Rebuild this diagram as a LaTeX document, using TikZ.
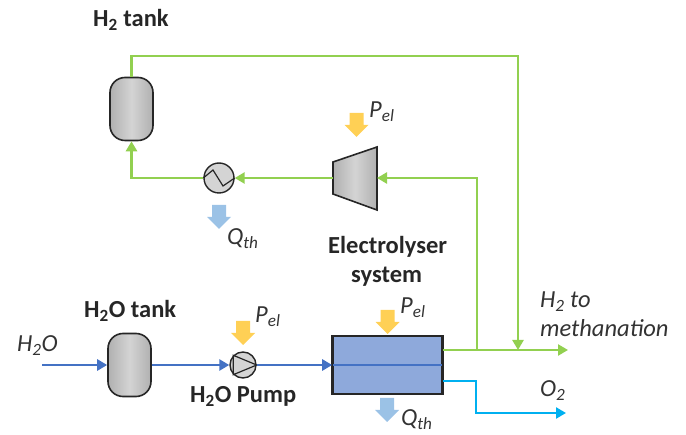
\documentclass[tikz,border=0pt]{standalone}
\usepackage{fontspec}
\setmainfont{Carlito}
\usetikzlibrary{arrows.meta,shadings}
\definecolor{pgreen}{RGB}{146,208,80}
\definecolor{pblue}{RGB}{68,114,196}
\definecolor{pcyan}{RGB}{0,176,240}
\definecolor{pyellow}{RGB}{255,208,85}
\definecolor{pheat}{RGB}{155,194,230}
\definecolor{pbox}{RGB}{142,169,219}
\definecolor{pedge}{RGB}{38,38,38}
\definecolor{gdark}{RGB}{140,140,140}
\definecolor{glight}{RGB}{212,212,212}
\pgfdeclarehorizontalshading{vessel}{100bp}{color(0bp)=(gdark);color(50bp)=(glight);color(100bp)=(gdark)}
\tikzset{
  x=1pt,y=-1pt,
  flow/.style={line width=2.8pt,-{Triangle[length=10pt,width=11pt]}},
  green flow/.style={flow,draw=pgreen},
  blue flow/.style={flow,draw=pblue},
  cyan flow/.style={flow,draw=pcyan},
  tank/.style={draw=pedge,line width=1.6pt,shading=vessel,rounded corners=15pt,minimum width=43pt,minimum height=63pt,inner sep=0pt},
  round unit/.style={circle,draw=pedge,line width=1.4pt,fill=glight,inner sep=0pt},
  label text/.style={font=\fontsize{24.5}{27}\selectfont\itshape,inner sep=0pt,text=black!80,anchor=base west},
  bold text/.style={font=\fontsize{24.5}{29}\selectfont\bfseries,inner sep=0pt,text=black!85,anchor=base west}
}
\newcommand{\blockdown}[4]{% colour, name, x, top y
  \fill[#1] (#3-7,#4) -- (#3+7,#4) -- (#3+7,#4+12) -- (#3+12,#4+12) -- (#3,#4+24) -- (#3-12,#4+12) -- (#3-7,#4+12) -- cycle;
  \coordinate (#2) at (#3,#4);
}
\begin{document}
\begin{tikzpicture}
\useasboundingbox (0,0) rectangle (686,435);
% equipment
\node[tank] (h2tank) at (131.5,109) {};
\node[tank] (h2otank) at (129.5,365) {};
\node[round unit,minimum size=30pt] (cooler) at (219,178) {};
\node[round unit,minimum size=26pt] (pump) at (243,365) {};
\node[draw=pedge,line width=1.6pt,fill=pbox,minimum width=109pt,minimum height=57pt,inner sep=0pt] (stack) at (387.5,365) {};
\coordinate (compin) at (377,178);
\coordinate (compout) at (333,178);
\shade[shading=vessel,draw=pedge,line width=1.6pt,line join=miter] (333,162) -- (377,147) -- (377,210) -- (333,194) -- cycle;
% internals
\draw[pedge,line width=1.2pt] (cooler.west) -- (213,170) -- (223,186) -- (cooler.east);
\draw[pedge,line width=1.2pt,line join=miter] (pump.north west) -- (pump.east) -- (pump.south west) -- cycle;
\draw[pblue,line width=2.4pt] (stack.west) -- (stack.east);
\draw[pedge,line width=1.6pt] (stack.south west) rectangle (stack.north east);
% coordinates
\coordinate (h2in) at (42,365);
\coordinate (h2end) at (568,350);
\coordinate (o2end) at (566,413);
\coordinate (h2split) at (477,350);
\coordinate (h2join) at (518,350);
\coordinate (h2topleft) at (131.5,56);
\coordinate (h2topright) at (518,56);
\coordinate (o2a) at (442.5,381);
% water line
\draw[blue flow] (h2in) -- (h2otank.west);
\draw[blue flow] (h2otank.east) -- (pump.west);
\draw[blue flow] (pump.east) -- (stack.west);
% hydrogen lines
\draw[green flow] (stack.east |- h2split) -- (h2end);
\draw[green flow,line join=miter] (h2split) -- (h2split |- compin) -- (compin);
\draw[green flow] (compout) -- (cooler.east);
\draw[green flow,line join=miter] (cooler.west) -- (h2tank.south |- cooler.west) -- (h2tank.south);
\draw[green flow,line join=miter] (h2tank.north) -- (h2topleft) -- (h2topright) -- (h2join);
% oxygen line
\draw[cyan flow,line join=miter] (o2a) -- (476,381) -- (476,413) -- (o2end);
% block arrows
\blockdown{pyellow}{ya}{356.5}{113}
\blockdown{pyellow}{yb}{243}{321}
\blockdown{pyellow}{yc}{387.5}{310}
\blockdown{pheat}{ba}{219}{205}
\blockdown{pheat}{bb}{387}{398}
% labels
\node[bold text] (t1) at (93,27) {H\textsubscript{2} tank};
\node[bold text] (t2) at (84,318) {H\textsubscript{2}O tank};
\node[bold text] (t3) at (190,403) {H\textsubscript{2}O Pump};
\node[bold text] (t4) at (328,254) {Electrolyser};
\node[bold text] (t5) at (351,283) {system};
\node[label text] (l1) at (17,352) {H\textsubscript{2}O};
\node[label text] (l2) at (369,118) {P\textsubscript{el}};
\node[label text] (l3) at (227,245) {Q\textsubscript{th}};
\node[label text] (l4) at (255,323) {P\textsubscript{el}};
\node[label text] (l5) at (400,314) {P\textsubscript{el}};
\node[label text] (l6) at (401,426) {Q\textsubscript{th}};
\node[label text] (l7) at (540,308) {H\textsubscript{2} to};
\node[label text] (l8) at (540,337) {methanation};
\node[label text] (l9) at (540,397) {O\textsubscript{2}};
\end{tikzpicture}
\end{document}
